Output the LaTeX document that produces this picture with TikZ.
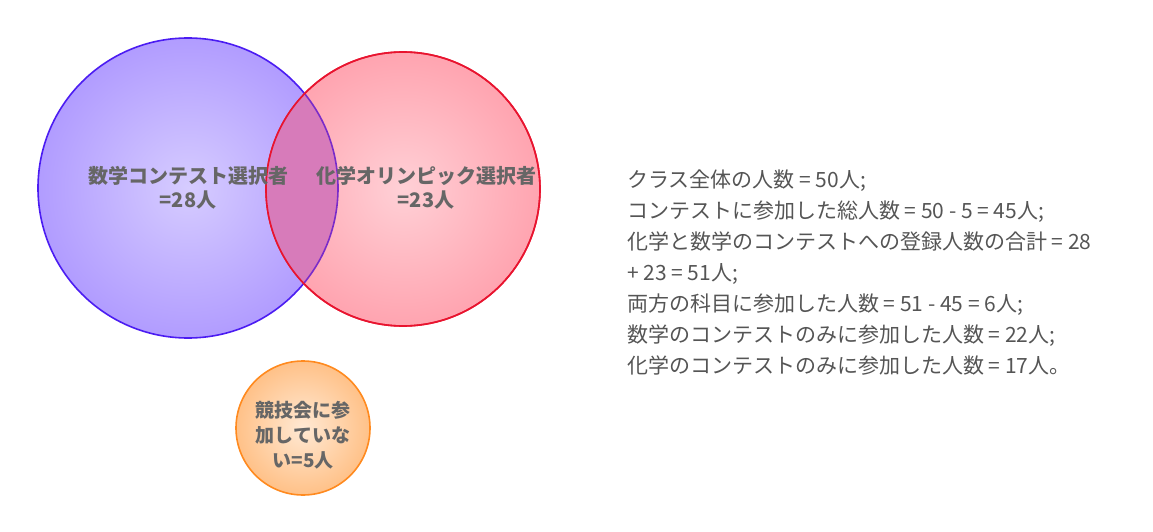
\documentclass[tikz,border=0pt]{standalone}
\usepackage{fontspec}
\setmainfont{Noto Sans CJK JP}
\definecolor{mathline}{HTML}{4B1CF2}
\definecolor{mathin}{HTML}{D6CCFF}
\definecolor{mathout}{HTML}{B19CFF}
\definecolor{chemline}{HTML}{E8142F}
\definecolor{chemin}{HTML}{FFD0D6}
\definecolor{chemout}{HTML}{FFA4B0}
\definecolor{both}{HTML}{D77BBA}
\definecolor{bothline}{HTML}{7A2CC9}
\definecolor{noneline}{HTML}{FF8A1F}
\definecolor{nonein}{HTML}{FFE9D4}
\definecolor{noneout}{HTML}{FFC188}
\definecolor{ink}{HTML}{666666}
\definecolor{notetext}{HTML}{555555}
\usetikzlibrary{positioning}
\tikzset{
  venn/.style={circle, inner sep=0pt, line width=1.6pt},
  mathset/.style={venn, draw=mathline, inner color=mathin, outer color=mathout, minimum size=300pt},
  chemset/.style={venn, draw=chemline, inner color=chemin, outer color=chemout, minimum size=274pt},
  noneset/.style={venn, draw=noneline, inner color=nonein, outer color=noneout, minimum size=134pt},
  lbl/.style={font=\fontsize{20}{23.5}\selectfont\bfseries, text=ink, align=center, inner sep=0pt},
  notes/.style={font=\fontsize{21}{31}\selectfont, text=notetext, align=left, anchor=north west, inner sep=0pt},
}
\begin{document}
\begin{tikzpicture}[x=1pt,y=-1pt]
\useasboundingbox (0,0) rectangle (1153,532);
\node[mathset] (math) at (188,188) {};
\node[chemset] (chem) at (403,189) {};
% overlap of the two sets
\begin{scope}
\clip (math.center) circle (150pt);
\fill[both] (chem.center) circle (137pt);
\end{scope}
\begin{scope}
\clip (chem.center) circle (137pt);
\draw[line width=1.6pt, bothline] (math.center) circle (150pt);
\end{scope}
\draw[line width=1.6pt, chemline] (chem.center) circle (137pt);
\node[noneset] (none) at (303,428) {};
\node[lbl] (mathlbl) at (math.center) {数学コンテスト選択者\\=28人};
\node[lbl] (chemlbl) at (426,188) {化学オリンピック選択者\\=23人};
\node[lbl, font=\fontsize{19}{25}\selectfont\bfseries] (nonelbl) at (303,435) {競技会に参\\加していな\\い=5人};
\node[notes] (calc) at (627,170) {クラス全体の人数 = 50人;\\
コンテストに参加した総人数 = 50 - 5 = 45人;\\
化学と数学のコンテストへの登録人数の合計 = 28\\
+ 23 = 51人;\\
両方の科目に参加した人数 = 51 - 45 = 6人;\\
数学のコンテストのみに参加した人数 = 22人;\\
化学のコンテストのみに参加した人数 = 17人。};
\end{tikzpicture}
\end{document}
